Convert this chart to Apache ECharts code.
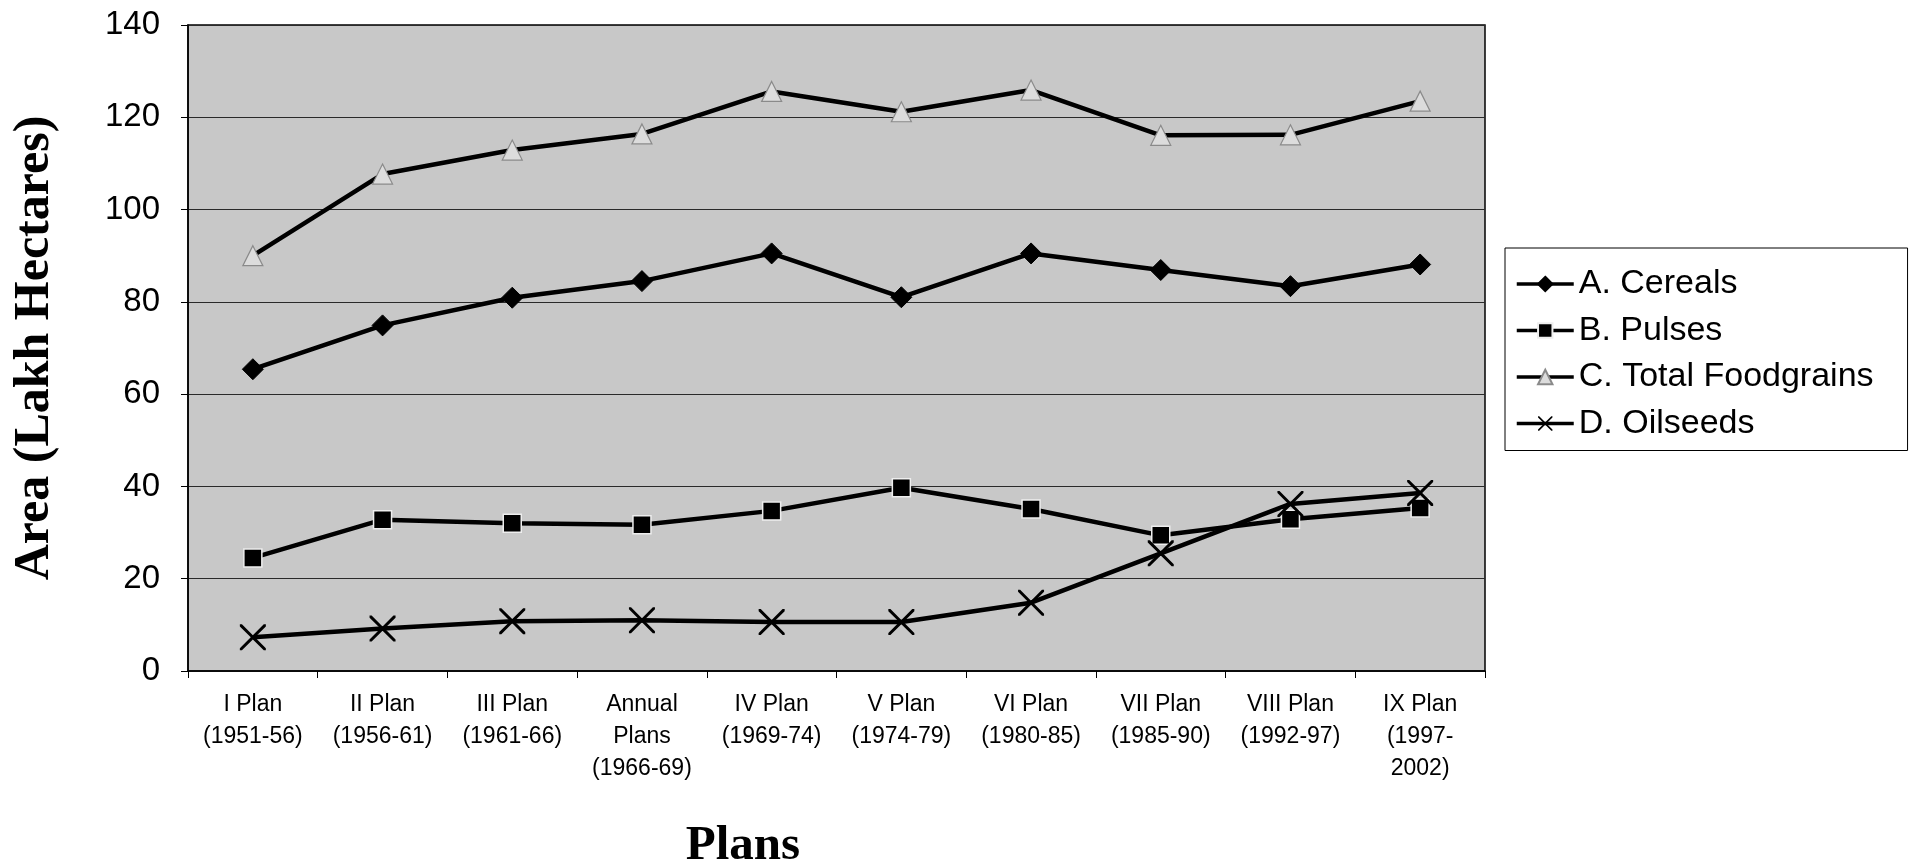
<!DOCTYPE html>
<html>
<head>
<meta charset="utf-8">
<script src="https://cdn.jsdelivr.net/npm/echarts@6/dist/echarts.min.js"></script>
<style>
html,body{margin:0;padding:0;background:#fff;}
#c{width:1917px;height:864px;}
</style>
</head>
<body>
<div id="c"></div>
<script>
const categories = [
  "I Plan\n(1951-56)", "II Plan\n(1956-61)", "III Plan\n(1961-66)", "Annual\nPlans\n(1966-69)",
  "IV Plan\n(1969-74)", "V Plan\n(1974-79)", "VI Plan\n(1980-85)", "VII Plan\n(1985-90)",
  "VIII Plan\n(1992-97)", "IX Plan\n(1997-\n2002)"
];
const cereals    = [65.4, 74.9, 80.9, 84.5, 90.5, 81.0, 90.5, 86.9, 83.4, 88.1];
const pulses     = [24.5, 32.8, 32.0, 31.7, 34.7, 39.7, 35.1, 29.4, 32.9, 35.3];
const foodgrains = [90.0, 107.7, 112.9, 116.4, 125.6, 121.2, 125.9, 116.1, 116.2, 123.5];
const oilseeds   = [7.3, 9.2, 10.8, 11.0, 10.6, 10.6, 14.8, 25.5, 36.2, 38.6];
const seriesNames = ["A. Cereals", "B. Pulses", "C. Total Foodgrains", "D. Oilseeds"];
const yTicks = {min: 0, max: 140, interval: 20};

const xPath = 'path://M0,0 L1.6,0 L10,8.4 L18.4,0 L20,0 L20,1.6 L11.6,10 L20,18.4 L20,20 L18.4,20 L10,11.6 L1.6,20 L0,20 L0,18.4 L8.4,10 L0,1.6 Z';

const chart = echarts.init(document.getElementById('c'), null, {renderer: 'canvas'});
const lineStyle = {color: '#000', width: 4.5};
chart.setOption({
  animation: false,
  backgroundColor: '#ffffff',
  grid: {
    left: 188, right: 432, top: 25, bottom: 193,
    show: true, backgroundColor: '#c8c8c8', borderColor: '#000', borderWidth: 1.5
  },
  legend: {
    orient: 'vertical',
    left: 1505, top: 248,
    padding: [19, 34, 10, 10],
    itemGap: 12.5,
    itemWidth: 57, itemHeight: 18,
    borderColor: '#000', borderWidth: 1,
    backgroundColor: '#fff',
    lineStyle: {width: 3.5, color: '#000'},
    textStyle: {fontFamily: '"Liberation Sans", Arial, sans-serif', fontSize: 34, color: '#000', lineHeight: 31},
    data: seriesNames
  },
  xAxis: {
    type: 'category',
    data: categories,
    boundaryGap: true,
    axisLine: {lineStyle: {color: '#000', width: 1.5}},
    axisTick: {show: true, length: 7, lineStyle: {color: '#000', width: 1}},
    axisLabel: {
      interval: 0, margin: 18, color: '#000',
      fontFamily: '"Liberation Sans", Arial, sans-serif', fontSize: 23, lineHeight: 32
    },
    splitLine: {show: false}
  },
  yAxis: {
    type: 'value',
    min: yTicks.min, max: yTicks.max, interval: yTicks.interval,
    name: 'Area (Lakh Hectares)',
    nameLocation: 'middle',
    nameGap: 128,
    nameTextStyle: {fontFamily: '"Liberation Serif", "Times New Roman", serif', fontWeight: 'bold', fontSize: 50, color: '#000'},
    axisLine: {show: true, lineStyle: {color: '#000', width: 1.5}},
    axisTick: {show: true, length: 7, lineStyle: {color: '#000', width: 1}},
    axisLabel: {margin: 28, color: '#000', fontFamily: '"Liberation Sans", Arial, sans-serif', fontSize: 33},
    splitLine: {show: true, lineStyle: {color: '#2a2a2a', width: 1.2}}
  },
  graphic: [{
    type: 'text',
    style: {
      text: 'Plans', x: 743, y: 846, align: 'center', verticalAlign: 'middle',
      font: 'bold 49px "Liberation Serif", "Times New Roman", serif', fill: '#000'
    }
  }],
  series: [
    {
      name: seriesNames[0], type: 'line', data: cereals,
      symbol: 'diamond', symbolSize: 21,
      lineStyle: lineStyle,
      itemStyle: {color: '#000', borderColor: '#000', borderWidth: 1}
    },
    {
      name: seriesNames[1], type: 'line', data: pulses,
      symbol: 'rect', symbolSize: 18,
      lineStyle: lineStyle,
      itemStyle: {color: '#000', borderColor: '#eee', borderWidth: 1.5}
    },
    {
      name: seriesNames[2], type: 'line', data: foodgrains,
      symbol: 'triangle', symbolSize: 20,
      lineStyle: lineStyle,
      itemStyle: {color: '#dcdcdc', borderColor: '#8a8a8a', borderWidth: 1.2}
    },
    {
      name: seriesNames[3], type: 'line', data: oilseeds,
      symbol: xPath, symbolSize: 26,
      lineStyle: lineStyle,
      itemStyle: {color: '#000', borderColor: '#000', borderWidth: 0}
    }
  ]
});
</script>
</body>
</html>
